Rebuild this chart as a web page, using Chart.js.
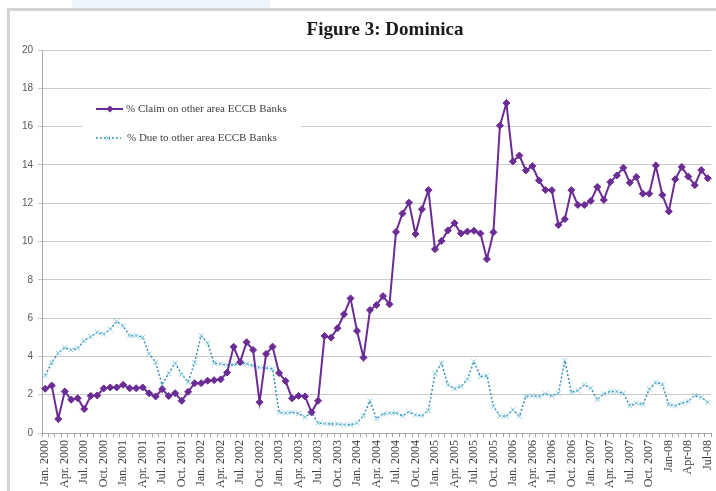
<!DOCTYPE html>
<html>
<head>
<meta charset="utf-8">
<title>Figure 3: Dominica</title>
<script src="https://cdn.jsdelivr.net/npm/chart.js@4.4.1/dist/chart.umd.min.js"></script>
<style>
  html, body { margin: 0; padding: 0; background: #fff; }
  #wrap { width: 716px; height: 491px; }
</style>
</head>
<body>
<div id="wrap"><canvas id="dominicaChart" width="716" height="491"></canvas></div>
<script>
// quarterly axis labels, one per third month
const tickLabels = [
  'Jan. 2000', 'Apr. 2000', 'Jul. 2000', 'Oct. 2000',
  'Jan. 2001', 'Apr. 2001', 'Jul. 2001', 'Oct. 2001',
  'Jan. 2002', 'Apr. 2002', 'Jul. 2002', 'Oct. 2002',
  'Jan. 2003', 'Apr. 2003', 'Jul. 2003', 'Oct. 2003',
  'Jan. 2004', 'Apr. 2004', 'Jul. 2004', 'Oct. 2004',
  'Jan. 2005', 'Apr. 2005', 'Jul. 2005', 'Oct. 2005',
  'Jan. 2006', 'Apr. 2006', 'Jul. 2006', 'Oct. 2006',
  'Jan. 2007', 'Apr. 2007', 'Jul. 2007', 'Oct. 2007',
  'Jan-08', 'Apr-08', 'Jul-08'
];

// % Claim on other area ECCB Banks, monthly Jan 2000 - Jul 2008
const claimShare = [
  2.31, 2.48, 0.73, 2.17, 1.74, 1.82, 1.25, 1.94, 1.96, 2.33,
  2.38, 2.38, 2.52, 2.34, 2.34, 2.38, 2.07, 1.91, 2.29, 1.93,
  2.08, 1.68, 2.15, 2.60, 2.60, 2.73, 2.76, 2.80, 3.16, 4.50,
  3.70, 4.74, 4.34, 1.61, 4.13, 4.51, 3.13, 2.71, 1.81, 1.94,
  1.91, 1.08, 1.68, 5.07, 4.98, 5.47, 6.20, 7.03, 5.33, 3.94,
  6.42, 6.68, 7.15, 6.72, 10.50, 11.46, 12.03, 10.39, 11.69, 12.68,
  9.60, 10.03, 10.58, 10.96, 10.42, 10.52, 10.56, 10.42, 9.08, 10.48,
  16.05, 17.23, 14.18, 14.49, 13.71, 13.94, 13.19, 12.69, 12.68, 10.86,
  11.17, 12.68, 11.91, 11.91, 12.12, 12.85, 12.17, 13.11, 13.45, 13.85,
  13.07, 13.37, 12.50, 12.50, 13.97, 12.43, 11.57, 13.25, 13.89, 13.39,
  12.94, 13.73, 13.30
];

// % Due to other area ECCB Banks
const dueShare = [
  3.00, 3.68, 4.17, 4.46, 4.34, 4.43, 4.83, 5.03, 5.26, 5.16,
  5.42, 5.82, 5.59, 5.07, 5.09, 5.00, 4.13, 3.68, 2.52, 3.11,
  3.65, 3.07, 2.66, 3.68, 5.09, 4.69, 3.65, 3.61, 3.54, 3.56,
  3.65, 3.61, 3.51, 3.42, 3.40, 3.35, 1.08, 1.04, 1.08, 1.02,
  0.82, 1.08, 0.52, 0.49, 0.47, 0.47, 0.43, 0.43, 0.52, 0.90,
  1.68, 0.75, 0.99, 1.04, 1.04, 0.90, 1.09, 0.95, 0.90, 1.18,
  3.09, 3.65, 2.52, 2.31, 2.43, 2.81, 3.73, 2.95, 2.99, 1.39,
  0.90, 0.87, 1.22, 0.87, 1.91, 1.94, 1.91, 2.05, 1.94, 2.08,
  3.78, 2.12, 2.22, 2.52, 2.34, 1.74, 2.05, 2.17, 2.17, 2.08,
  1.42, 1.56, 1.48, 2.29, 2.64, 2.55, 1.48, 1.42, 1.56, 1.65,
  1.96, 1.86, 1.60
];

const seriesNames = ['% Claim on other area ECCB Banks', '% Due to other area ECCB Banks'];
const chartTitle = 'Figure 3: Dominica';

// one category per month
const monthNames = ['Jan', 'Feb', 'Mar', 'Apr', 'May', 'Jun', 'Jul', 'Aug', 'Sep', 'Oct', 'Nov', 'Dec'];
const months = [];
for (let y = 2000; y <= 2008; y++) {
  for (let m = 0; m < 12; m++) {
    if (months.length < claimShare.length) months.push(monthNames[m] + ' ' + y);
  }
}

const purple = '#6b2c96';
const dueLine = '#3a8db4';
const dueMark = '#86cfe4';
const gridGrey = '#cacaca';
const axisGrey = '#a8a8a8';

// page frame and heading behind the chart
const framePlugin = {
  id: 'frame',
  beforeDraw(chart) {
    const c = chart.ctx;
    c.save();
    c.fillStyle = '#fff';
    c.fillRect(0, 0, chart.width, chart.height);
    c.fillStyle = '#eef6fc';
    c.fillRect(72, 0, 198, 8);
    c.fillStyle = '#d3d3d3';
    c.fillRect(7, 8, chart.width - 7, 3);
    c.fillRect(7, 8, 3, chart.height - 8);

    c.fillStyle = '#1a1a1a';
    c.font = 'bold 19px "Liberation Serif"';
    c.textAlign = 'center';
    c.textBaseline = 'alphabetic';
    c.fillText(chartTitle, 385, 35);
    c.restore();
  }
};

// legend box sitting inside the plot, top left
const legendPlugin = {
  id: 'insideLegend',
  afterDatasetsDraw(chart) {
    const c = chart.ctx;
    c.save();
    c.fillStyle = '#fff';
    c.fillRect(82, 93, 219, 62);

    // claim sample
    c.strokeStyle = purple;
    c.lineWidth = 2;
    c.beginPath();
    c.moveTo(96, 109);
    c.lineTo(123, 109);
    c.stroke();
    c.fillStyle = purple;
    c.beginPath();
    c.moveTo(110, 105.5);
    c.lineTo(113.5, 109);
    c.lineTo(110, 112.5);
    c.lineTo(106.5, 109);
    c.closePath();
    c.fill();

    // due sample
    c.strokeStyle = dueLine;
    c.lineWidth = 1.5;
    c.setLineDash([2, 2]);
    c.beginPath();
    c.moveTo(96, 138);
    c.lineTo(121, 138);
    c.stroke();
    c.setLineDash([]);
    c.strokeStyle = dueMark;
    c.lineWidth = 1;
    c.beginPath();
    c.moveTo(105.5, 135.5);
    c.lineTo(110.5, 140.5);
    c.moveTo(110.5, 135.5);
    c.lineTo(105.5, 140.5);
    c.stroke();

    c.fillStyle = '#404040';
    c.font = '11px "Liberation Serif"';
    c.textAlign = 'left';
    c.textBaseline = 'middle';
    c.fillText(seriesNames[0], 126, 109);
    c.fillText(seriesNames[1], 127, 138);
    c.restore();
  }
};

const chart = new Chart(document.getElementById('dominicaChart'), {
  type: 'line',
  data: {
    labels: months,
    datasets: [{
      label: seriesNames[0],
      data: claimShare,
      borderColor: purple,
      backgroundColor: purple,
      borderWidth: 2,
      pointStyle: 'rectRot',
      pointRadius: 3.5,
      pointBackgroundColor: purple,
      pointBorderColor: purple,
      pointBorderWidth: 1,
      tension: 0,
      fill: false
    }, {
      label: seriesNames[1],
      data: dueShare,
      borderColor: dueLine,
      borderWidth: 1.5,
      borderDash: [2, 2],
      pointStyle: 'crossRot',
      pointRadius: 3.5,
      pointBorderColor: dueMark,
      pointBorderWidth: 1,
      tension: 0,
      fill: false
    }]
  },
  options: {
    responsive: false,
    animation: false,
    devicePixelRatio: 1,
    layout: { padding: { left: 0, right: 5, top: 50, bottom: 0 } },
    plugins: {
      legend: { display: false },
      tooltip: { enabled: false },
      title: { display: false }
    },
    scales: {
      x: {
        type: 'category',
        offset: true,
        grid: { offset: true, drawOnChartArea: false, tickLength: 4, color: axisGrey },
        border: { color: axisGrey },
        ticks: {
          autoSkip: false,
          maxRotation: 90,
          minRotation: 90,
          padding: 3,
          color: '#404040',
          font: { family: '"Liberation Serif"', size: 12 },
          callback: (v, i) => (i % 3 === 0 ? tickLabels[i / 3] : '')
        },
        afterFit: s => {
          s.height = 58;
          // rotated end labels stay inside the frame, no extra side room needed
          s.paddingLeft = 0;
          s.paddingRight = 0;
        }
      },
      y: {
        min: 0,
        max: 20,
        grid: { color: gridGrey, tickLength: 4 },
        border: { color: axisGrey },
        ticks: {
          stepSize: 2,
          padding: 5,
          color: '#595959',
          font: { family: '"Liberation Sans"', size: 10 }
        },
        afterFit: s => { s.width = 42; }
      }
    }
  },
  plugins: [framePlugin, legendPlugin]
});
</script>
</body>
</html>
